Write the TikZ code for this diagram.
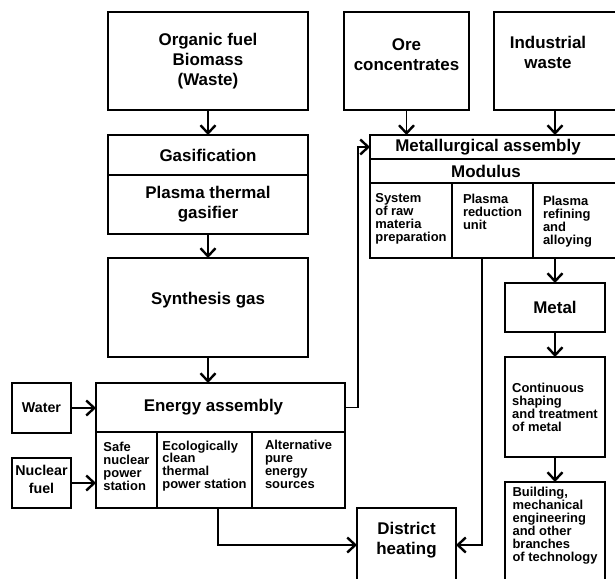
\documentclass[tikz,border=0pt]{standalone}
\usepackage{fontspec}
\setmainfont{Liberation Sans}
\usetikzlibrary{arrows.meta}
\tikzset{box/.style={draw, line width=1.8bp, inner sep=0pt, outer sep=0pt, align=center, font=\bfseries\fontsize{17}{20}\selectfont}}
\tikzset{txt/.style={inner sep=0pt, align=center, font=\bfseries\fontsize{17}{20}\selectfont}}
\tikzset{note/.style={inner sep=0pt, outer sep=0pt, align=left, font=\bfseries\fontsize{13}{13}\selectfont}}
\tikzset{cell/.style={note, draw, line width=1.8bp}}
\tikzset{inbox/.style={box, font=\bfseries\fontsize{14.3}{18}\selectfont}}
\tikzset{flow/.style={line width=1.8bp, -{Straight Barb[length=8bp, width=15bp, line width=2.4bp]}}}

\begin{document}
\begin{tikzpicture}[x=1bp, y=-1bp]%{{{
        \path[use as bounding box, clip] (0,0) rectangle (615,579);

        \node[box, minimum width=200bp, minimum height=98bp] (organic) at (208,61) {Organic fuel\\Biomass\\(Waste)};
        \node[box, minimum width=200bp, minimum height=40bp] (gasif) at (208,155) {Gasification};
        \node[box, minimum width=200bp, minimum height=59bp] (gasifier) at (208,204.5) {Plasma thermal\\gasifier};
        \node[box, minimum width=200bp, minimum height=99bp, text depth=18bp] (syngas) at (208,307.5) {Synthesis gas};

        \node[inbox, minimum width=59bp, minimum height=50bp] (water) at (41.5,408) {Water};
        \node[inbox, minimum width=59bp, minimum height=50bp, text depth=8bp] (nfuel) at (41.5,483) {Nuclear\\fuel};

        \node[box, minimum width=249bp, minimum height=49bp] (energy) at (220.5,407.5) {Energy assembly\hspace*{14bp}};
        \node[cell, minimum width=61bp, minimum height=76bp, text depth=8bp] (safe) at (126.5,470) {Safe\\nuclear\\power\\station};
        \node[cell, minimum width=95bp, minimum height=76bp, text depth=10.5bp] (eco) at (204.5,470) {Ecologically\\clean\\thermal\\power station};
        \node[cell, minimum width=93bp, minimum height=76bp, text depth=12bp] (alt) at (298.5,470) {Alternative\\pure\\energy\\sources};

        \node[box, minimum width=125bp, minimum height=98bp, text depth=12bp] (ore) at (406.5,61) {Ore\\concentrates};
        \node[box, minimum width=146bp, minimum height=98bp, anchor=north west] (waste) at (494,12) {};
        \node[txt] (wastetext) at (548,52) {Industrial\\waste};

        \node[box, minimum width=270bp, minimum height=24bp, anchor=north west] (metasm) at (370,135) {};
        \node[txt] (metasmtext) at (488,147) {Metallurgical assembly};
        \node[box, minimum width=270bp, minimum height=24bp, anchor=north west] (modulus) at (370,159) {};
        \node[txt] (modulustext) at (486,171) {Modulus};
        \node[cell, minimum width=82bp, minimum height=75bp, text depth=6bp] (rawprep) at (411,220.5) {System\\of raw\\materia\\preparation};
        \node[cell, minimum width=81bp, minimum height=75bp, text depth=17bp] (reduce) at (492.5,220.5) {Plasma\\reduction\\unit};
        \node[cell, minimum width=107bp, minimum height=75bp, anchor=north west] (refine) at (533,183) {};
        \node[note, anchor=north west] (refinetext) at (543,196) {Plasma\\refining\\and\\alloying};

        \node[box, minimum width=100bp, minimum height=49bp] (metal) at (555,307.5) {Metal};
        \node[cell, minimum width=100bp, minimum height=100bp] (shaping) at (555,407) {Continuous\\shaping\\and treatment\\of metal};
        \node[cell, minimum width=100bp, minimum height=100bp, text depth=16bp] (branches) at (555,532) {Building,\\mechanical\\engineering\\and other\\branches\\of technology};

        \node[box, minimum width=99bp, minimum height=74bp, text depth=13.5bp] (district) at (406.5,545) {District\\heating};

        \draw [flow] (organic) -- (gasif);
        \draw [flow] (gasifier) -- (syngas);
        \draw [flow] (syngas.south) -- (syngas.south |- energy.north);
        \draw [flow] (water.east) -- (water.east -| energy.west);
        \draw [flow] (nfuel.east) -- (nfuel.east -| safe.west);
        \draw [flow] (energy.east) -- ++(13bp,0) |- (metasm.west);
        \draw [flow] ([xshift=13.5bp]eco.south) |- (district.west);
        \draw [flow] (ore.south) -- (ore.south |- metasm.north);
        \draw [flow] (waste.south -| metal.north) -- (metal.north |- metasm.north);
        \draw [flow] ([xshift=-10.5bp]reduce.south) |- (district.east);
        \draw [flow] (metal.north |- refine.south) -- (metal);
        \draw [flow] (metal) -- (shaping);
        \draw [flow] (shaping) -- (branches);
    \end{tikzpicture}
\end{document}
